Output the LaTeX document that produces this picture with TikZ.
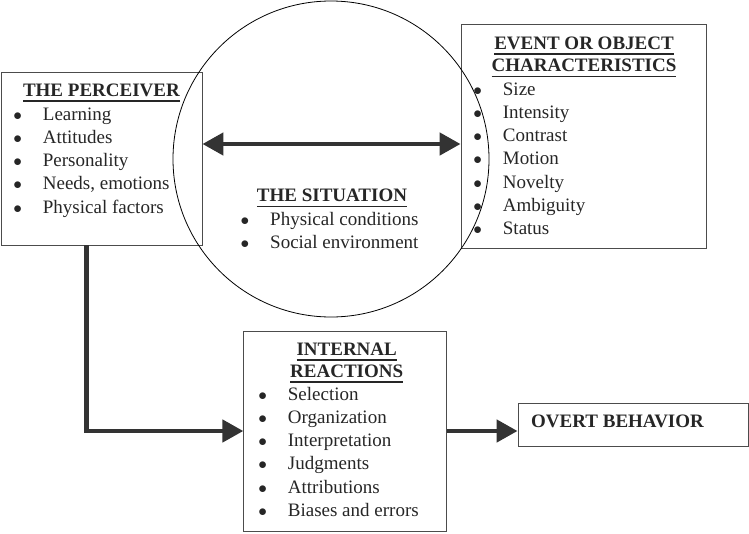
\documentclass[tikz,border=0pt]{standalone}
\usepackage{fontspec}
\setmainfont{Liberation Serif}
\usetikzlibrary{calc,arrows.meta}
\colorlet{FrameLine}{black!70}
\colorlet{ArrowLine}{black!80}
\colorlet{TextColor}{black!85}
\newsavebox{\TitleBox}
\newcommand{\TitleText}[1]{\sbox{\TitleBox}{\textbf{#1}}\rlap{\usebox{\TitleBox}}\rule[-5.5pt]{\wd\TitleBox}{1.5pt}}
\newcommand{\Dot}{$\bullet$}
\newcommand{\BulletList}[1]{\begin{tabular}[t]{@{}p{29.5pt}@{}l@{}}#1\end{tabular}}
\newcommand{\TwoLineTitle}[2]{\begin{tabular}[t]{@{}c@{}}\TitleText{#1}\\[-1pt]\TitleText{#2}\end{tabular}}
\tikzset{
    BigTip/.tip={Triangle[length=21pt,width=22pt]},
    BoxFrame/.style={draw=FrameLine, line width=0.9pt, inner sep=0pt},
    FlowArrow/.style={draw=ArrowLine, line width=4.7pt, -BigTip},
    Label/.style={anchor=base, inner sep=0pt, text=TextColor, font=\fontsize{19}{23.3}\selectfont},
    ListText/.style={Label, anchor=base west},
}

\begin{document}
\begin{tikzpicture}[x=1pt, y=-1pt]

    \useasboundingbox (0,0) rectangle (749,533);

    % Cajas y circulo
    \node[BoxFrame, minimum width=201pt, minimum height=173pt] (perc) at (101.5,158.5) {};
    \node[BoxFrame, minimum width=245pt, minimum height=224pt] (evt) at (583.5,136) {};
    \node[BoxFrame, minimum width=203pt, minimum height=200pt] (intr) at (345.3,431) {};
    \node[BoxFrame, minimum width=230pt, minimum height=43pt] (ovb) at (633,424.5) {};
    \node[draw, line width=0.8pt, circle, minimum size=316pt, inner sep=0pt] (sit) at (331,159) {};

    \node[Label] (percT) at (101.5,96) {\TitleText{THE PERCEIVER}};
    \node[ListText] (percL) at (13.2,120) {\BulletList{
        \Dot & Learning\\
        \Dot & Attitudes\\
        \Dot & Personality\\
        \Dot & Needs, emotions\\
        \Dot & Physical factors}};

    \node[Label] (evtT) at (584,49.3) {\TwoLineTitle{EVENT OR OBJECT}{CHARACTERISTICS}};
    \node[ListText] (evtL) at (473.2,95) {\BulletList{
        \Dot & Size\\
        \Dot & Intensity\\
        \Dot & Contrast\\
        \Dot & Motion\\
        \Dot & Novelty\\
        \Dot & Ambiguity\\
        \Dot & Status}};

    \node[Label] (sitT) at (332,201.7) {\TitleText{THE SITUATION}};
    \node[ListText] (sitL) at (240.5,225) {\BulletList{
        \Dot & Physical conditions\\
        \Dot & Social environment}};

    \node[Label] (intrT) at (346.7,355) {\TwoLineTitle{INTERNAL}{REACTIONS}};
    \node[ListText] (intrL) at (258.2,400) {\BulletList{
        \Dot & Selection\\
        \Dot & Organization\\
        \Dot & Interpretation\\
        \Dot & Judgments\\
        \Dot & Attributions\\
        \Dot & Biases and errors}};

    \node[ListText] (ovbT) at (531,427.7) {\textbf{OVERT BEHAVIOR}};

    % Flechas
    \coordinate (mid) at ([yshift=15pt]sit.center);
    \draw[FlowArrow, BigTip-BigTip] (perc.east |- mid) -- (evt.west |- mid);
    \draw[FlowArrow] ([xshift=-15pt]perc.south) |- (intr.west);
    \draw[FlowArrow] (intr.east) -- (intr.east -| ovb.west);

\end{tikzpicture}
\end{document}
